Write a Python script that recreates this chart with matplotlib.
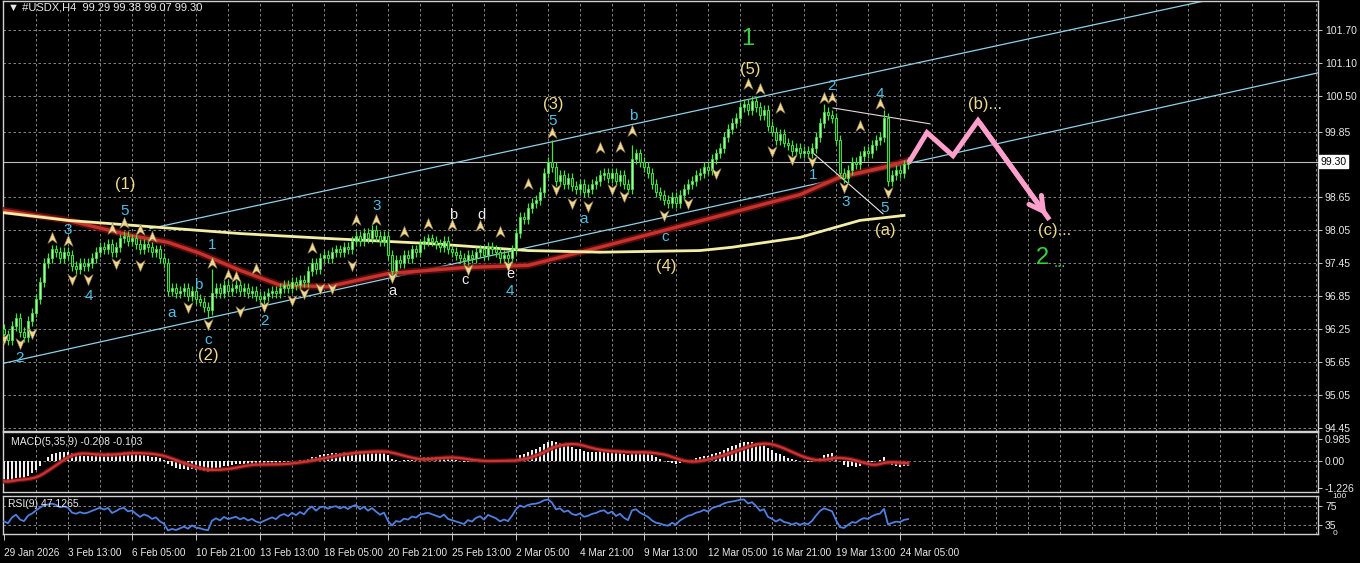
import numpy as np
import pandas as pd
import matplotlib
matplotlib.use("Agg")
import matplotlib.pyplot as plt
from matplotlib.path import Path

# ---- data -------------------------------------------------------------
closes = [
    96.15, 96.05, 96.30, 96.45, 96.20, 96.10, 96.40, 96.55, 96.80, 97.10, 97.45,
    97.55, 97.70, 97.65, 97.55, 97.65, 97.60, 97.40, 97.35, 97.45, 97.40, 97.45,
    97.55, 97.65, 97.75, 97.70, 97.80, 97.65, 97.75, 97.90, 97.95, 97.85, 97.90, 97.80,
    97.70, 97.80, 97.75, 97.65, 97.70, 97.55, 97.45,
    96.95, 97.00, 96.90, 96.95, 97.00, 96.85, 96.95, 96.80, 96.75, 96.65, 96.60,
    96.90, 97.00, 96.90, 97.05, 96.95, 97.00, 97.05, 96.95, 97.00, 96.90, 96.95, 96.85,
    96.80, 96.85, 96.90, 96.95, 96.90, 97.00, 97.05, 97.00, 97.10, 97.05, 97.15, 97.10,
    97.30, 97.45, 97.35, 97.55, 97.60, 97.55, 97.65, 97.70, 97.65, 97.75, 97.70,
    97.85, 97.95, 97.85, 98.00, 97.90, 98.05, 97.95, 97.85, 97.95,
    97.60, 97.30, 97.50, 97.45, 97.60, 97.55, 97.70, 97.65, 97.80, 97.85, 97.90, 97.85,
    97.80, 97.75, 97.85, 97.70, 97.65, 97.60, 97.55, 97.50, 97.60, 97.55, 97.65, 97.70,
    97.60, 97.75, 97.70, 97.65, 97.55, 97.60, 97.55, 97.70,
    98.00, 98.30, 98.25, 98.45, 98.55, 98.60, 98.75, 99.10, 99.30, 99.20,
    98.95, 99.05, 98.90, 99.00, 98.85, 98.80, 98.90, 98.75, 98.80, 98.90,
    98.95, 99.05, 99.10, 99.00, 99.10, 98.95, 99.05, 98.90, 98.80, 99.35,
    99.45, 99.30, 99.20, 99.10, 98.90, 98.75, 98.70, 98.60, 98.55, 98.65,
    98.55, 98.70, 98.80, 98.90, 98.95, 99.05, 99.10, 99.20, 99.15, 99.35,
    99.45, 99.55, 99.75, 99.90, 100.00, 100.10, 100.30, 100.35, 100.25, 100.40,
    100.30, 100.15, 100.25, 99.95, 99.85, 99.70, 99.80, 99.65, 99.60, 99.50,
    99.55, 99.45, 99.50, 99.45, 99.55, 99.75, 100.00, 100.20, 100.15, 100.10,
    99.70, 99.10, 99.00, 99.15, 99.30, 99.25, 99.40, 99.50, 99.45, 99.60,
    99.70, 99.75, 100.10, 98.95, 99.05, 99.15, 99.10, 99.25, 99.30,
]
first_open = 96.25
wick = 0.09
extra_highs = {52: 97.35, 137: 99.70, 157: 99.60, 187: 100.50, 205: 100.35, 220: 100.25}
extra_lows = {51: 96.45, 97: 97.25, 221: 98.85}

# moving averages (bar index, price)
red_ma_x = [0, 16, 32, 41, 49, 59, 69, 81, 96, 115, 131, 149, 174, 199, 209, 220, 226]
red_ma_y = [98.41, 98.23, 97.95, 97.83, 97.63, 97.32, 97.05, 97.02, 97.26, 97.37, 97.41,
            97.74, 98.22, 98.70, 99.02, 99.20, 99.32]
yel_ma_x = [0, 16, 59, 81, 106, 131, 149, 174, 182, 199, 214, 225]
yel_ma_y = [98.37, 98.23, 97.99, 97.90, 97.81, 97.68, 97.65, 97.68, 97.74, 97.92, 98.23, 98.32]

# trend lines (bar index, price)
lower_chan = ([-1, 328.5], [95.61, 100.92])
upper_chan = ([36.5, 300], [98.08, 102.23])
white_line1 = ([207.25, 231.5], [100.28, 99.99])
white_line2 = ([202.25, 219.75], [99.46, 98.35])
pink_x = [226.5, 230.75, 237.25, 243.5]
pink_y = [99.32, 99.83, 99.41, 100.05]
pink_tip = (261, 98.28)

frac_up = [(12, 97.90), (16, 97.86), (27, 98.08), (30, 98.19), (34, 98.05), (37, 97.92),
           (52, 97.45), (56, 97.23), (58, 97.19), (63, 97.34), (77, 97.72), (88, 98.23),
           (93, 98.23), (100, 98.01), (106, 98.17), (112, 98.14), (119, 98.12), (124, 98.01),
           (131, 98.90), (137, 99.83), (149, 99.55), (154, 99.57), (157, 99.86), (186, 100.72),
           (189, 100.63), (194, 100.28), (205, 100.46), (207, 100.46), (214, 99.95), (219, 100.35)]
frac_dn = [(0, 96.08), (4, 95.99), (7, 96.17), (17, 97.17), (21, 97.17), (28, 97.45),
           (34, 97.41), (46, 96.65), (51, 96.35), (59, 96.57), (65, 96.66), (72, 96.77),
           (75, 96.90), (79, 96.99), (82, 96.99), (87, 97.41), (97, 97.19), (116, 97.35),
           (126, 97.41), (138, 98.81), (142, 98.54), (146, 98.50), (152, 98.81), (155, 98.68),
           (165, 98.32), (171, 98.54), (178, 99.10), (192, 99.50), (197, 99.35), (202, 99.32),
           (210, 98.83), (221, 98.74)]

# wave labels: (text, bar, price, kind)
wave_labels = [
    ("1", 186, 101.54, "big"), ("(5)", 186.5, 100.99, "deg"),
    ("(1)", 30.25, 98.88, "deg"), ("5", 30.25, 98.41, "cy"), ("3", 16, 98.06, "cy"),
    ("4", 21.25, 96.85, "cy"), ("2", 4, 95.72, "cy"), ("1", 52, 97.79, "cy"),
    ("a", 42, 96.54, "cy"), ("b", 48.5, 97.06, "cy"), ("c", 51, 96.05, "cy"),
    ("(2)", 51, 95.77, "deg"), ("2", 65.25, 96.39, "cy"), ("3", 93.25, 98.50, "cy"),
    ("a", 97, 96.95, "wh"), ("b", 112.25, 98.32, "wh"), ("c", 115.25, 97.14, "wh"),
    ("d", 119.5, 98.32, "wh"), ("e", 126.5, 97.25, "wh"), ("4", 126.5, 96.94, "cy"),
    ("(3)", 137.25, 100.35, "deg"), ("5", 137.25, 100.05, "cy"), ("a", 145, 98.26, "cy"),
    ("b", 157.25, 100.14, "cy"), ("c", 165.25, 97.92, "cy"), ("(4)", 165.5, 97.39, "deg"),
    ("2", 207, 100.68, "cy"), ("1", 202.25, 99.06, "cy"), ("3", 210.5, 98.57, "cy"),
    ("4", 219, 100.54, "cy"), ("5", 220.25, 98.46, "cy"), ("(a)", 220.25, 98.05, "deg"),
]

price_ticks = [101.70, 101.10, 100.50, 99.85, 98.65, 98.05, 97.45, 96.85, 96.25, 95.65, 95.05, 94.45]
last_price = 99.30
date_labels = ['29 Jan 2026', '3 Feb 13:00', '6 Feb 05:00', '10 Feb 21:00', '13 Feb 13:00',
               '18 Feb 05:00', '20 Feb 21:00', '25 Feb 13:00', '2 Mar 05:00', '4 Mar 21:00',
               '9 Mar 13:00', '12 Mar 05:00', '16 Mar 21:00', '19 Mar 13:00', '24 Mar 05:00']
header = "\u25bc #USDX,H4  99.29 99.38 99.07 99.30"

macd_fast, macd_slow, macd_sig = 5, 35, 9
macd_seed = (96.40, 97.30)
rsi_period = 9
rsi_seed = (0.06, 0.07)
rsi_levels = [75, 35]

# ---- derived --------------------------------------------------------
c = np.array(closes)
n = len(c)
idx = np.arange(n)
o = np.concatenate([[first_open], c[:-1]])
h = np.maximum(o, c) + wick
l = np.minimum(o, c) - wick
for k, v in extra_highs.items():
    h[k] = max(h[k], v)
for k, v in extra_lows.items():
    l[k] = min(l[k], v)


def ema(values, period, seed):
    a = 2.0 / (period + 1)
    out = []
    prev = seed
    for v in values:
        prev = prev + a * (v - prev)
        out.append(prev)
    return np.array(out)


macd = ema(c, macd_fast, macd_seed[0]) - ema(c, macd_slow, macd_seed[1])
signal = pd.Series(macd).rolling(macd_sig, min_periods=1).mean().values

diff = np.diff(np.concatenate([[first_open], c]))
ag, al = rsi_seed
rsi = []
for d in diff:
    ag = (ag * (rsi_period - 1) + max(d, 0)) / rsi_period
    al = (al * (rsi_period - 1) + max(-d, 0)) / rsi_period
    rsi.append(100 - 100 / (1 + ag / al))
rsi = np.array(rsi)

# MT4 style arrow markers (notched arrowheads)
up_arrow = Path([(0, 1), (0.75, -0.8), (0, -0.25), (-0.75, -0.8), (0, 1)],
                [Path.MOVETO, Path.LINETO, Path.LINETO, Path.LINETO, Path.CLOSEPOLY])
dn_arrow = Path([(0, -1), (0.75, 0.8), (0, 0.25), (-0.75, 0.8), (0, -1)],
                [Path.MOVETO, Path.LINETO, Path.LINETO, Path.LINETO, Path.CLOSEPOLY])

# ---- figure ---------------------------------------------------------
W, H = 1360, 563
fig = plt.figure(figsize=(W / 100, H / 100), dpi=100, facecolor='black')
plt.rcParams['font.family'] = ['Liberation Sans', 'DejaVu Sans']

L, R = 3 / W, 1318 / W
ax = fig.add_axes([L, 1 - 431 / H, R - L, 431 / H - 1 / H])
axm = fig.add_axes([L, 1 - 492 / H, R - L, 60 / H])
axr = fig.add_axes([L, 1 - 534 / H, R - L, 38 / H])

xlim = (-0.25, 328.5)
grid_col = '#9a9a9a'
txt_col = '#e8e8e8'
for a in (ax, axm, axr):
    a.set_facecolor('black')
    a.set_xlim(*xlim)
    for s in a.spines.values():
        s.set_color('#d0d0d0')
        s.set_linewidth(1.0)
    a.yaxis.tick_right()
    a.tick_params(axis='y', colors=txt_col, labelsize=7.5, length=3, pad=2, width=0.6)
    a.tick_params(axis='x', length=0)
    a.set_xticks([])
    for gx in range(8, 329, 8):
        a.axvline(gx, color=grid_col, lw=0.6, ls=(0, (3, 3)), zorder=0)

# main price panel
ax.set_ylim(94.39, 102.23)
ax.set_yticks(price_ticks)
ax.set_yticklabels([f"{p:.2f}" for p in price_ticks])
for p in price_ticks:
    ax.axhline(p, color=grid_col, lw=0.6, ls=(0, (3, 3)), zorder=0)
ax.axhline(last_price, color='#bdbdbd', lw=0.8, zorder=1)
ax.text(1.002, last_price, f"{last_price:.2f}", transform=ax.get_yaxis_transform(),
        va='center', ha='left', fontsize=7.5, color='black',
        bbox=dict(boxstyle='square,pad=0.15', fc='white', ec='white'))

ax.plot(*lower_chan, color='#8fd0e6', lw=0.9, zorder=2)
ax.plot(*upper_chan, color='#8fd0e6', lw=0.9, zorder=2)
ax.plot(red_ma_x, red_ma_y, color='#6b1010', lw=5, alpha=0.8, zorder=3)
ax.plot(red_ma_x, red_ma_y, color='#c8322c', lw=2.4, zorder=3)
ax.plot(yel_ma_x, yel_ma_y, color='#f3eea6', lw=2.0, zorder=3)
ax.plot(*white_line1, color='#e6d6dc', lw=0.8, zorder=3)
ax.plot(*white_line2, color='#e6e6e6', lw=0.8, zorder=3)

# candles
cand = '#44e044'
ax.vlines(idx, l, h, color=cand, lw=0.9, zorder=4)
up = c >= o
body = np.maximum(np.abs(c - o), 0.015)
ax.bar(idx[up], body[up], bottom=np.minimum(o, c)[up], width=0.7,
       color='#a8f5a8', edgecolor=cand, lw=0.6, zorder=5)
ax.bar(idx[~up], body[~up], bottom=np.minimum(o, c)[~up], width=0.7,
       color='#0d3a0d', edgecolor=cand, lw=0.7, zorder=5)

# fractal arrows
fu = np.array(frac_up)
fd = np.array(frac_dn)
ax.scatter(fu[:, 0], fu[:, 1], marker=up_arrow, s=80, color='#efd896',
           edgecolor='#8a7440', lw=0.4, zorder=6)
ax.scatter(fd[:, 0], fd[:, 1], marker=dn_arrow, s=80, color='#efd896',
           edgecolor='#8a7440', lw=0.4, zorder=6)

# projection
ax.plot(pink_x + [pink_tip[0]], pink_y + [pink_tip[1]], color='#ff9fcc', lw=3.6,
        solid_joinstyle='miter', zorder=7)
ax.annotate('', xy=pink_tip, xytext=(pink_x[-1], pink_y[-1]),
            arrowprops=dict(arrowstyle='->,head_length=1.0,head_width=0.55',
                            color='#ff9fcc', lw=3.6), zorder=7)

styles = {
    'big': dict(color='#3ccf3c', fontsize=17),
    'deg': dict(color='#efd98c', fontsize=12),
    'cy': dict(color='#4fc0e4', fontsize=11),
    'wh': dict(color='#ececec', fontsize=10.5),
}
for t, x, y, k in wave_labels:
    ax.text(x, y, t, ha='center', va='center', zorder=8, **styles[k])
ax.text(241, 100.34, "(b)...", ha='left', va='center', color='#efd98c', fontsize=12, zorder=8)
ax.text(258.5, 98.05, "(c)...", ha='left', va='center', color='#efd98c', fontsize=12, zorder=8)
ax.text(258, 97.54, "2", ha='left', va='center', color='#3ccf3c', fontsize=17, zorder=8)
ax.text(262.5, 97.45, "...", ha='left', va='center', color='#3ccf3c', fontsize=11, zorder=8)
fig.text(8 / W, 1 - 8 / H, header, color=txt_col, fontsize=8, va='center', ha='left')

# MACD panel
axm.set_ylim(-1.4, 1.3)
axm.set_yticks([0.985, 0.0, -1.226])
axm.set_yticklabels(['0.985', '0.00', '-1.226'])
axm.axhline(0, color=grid_col, lw=0.6, ls=(0, (3, 3)), zorder=0)
axm.bar(idx, macd, width=0.3, color='#f0f0f0', zorder=2)
axm.plot(idx, signal, color='#7a1515', lw=3.4, alpha=0.8, zorder=3)
axm.plot(idx, signal, color='#cc3333', lw=1.6, zorder=3)
axm.text(0.006, 0.84, f"MACD({macd_fast},{macd_slow},{macd_sig}) {macd[-1]:.3f} {signal[-1]:.3f}",
         transform=axm.transAxes, color=txt_col, fontsize=7.5, va='center')

# RSI panel
axr.set_ylim(15, 97)
axr.set_yticks(rsi_levels)
axr.set_yticklabels([str(v) for v in rsi_levels])
for lv in rsi_levels:
    axr.axhline(lv, color=grid_col, lw=0.6, ls=(0, (3, 3)), zorder=0)
axr.text(1.011, 1.0, '100', transform=axr.transAxes, color=txt_col, fontsize=6, va='center')
axr.text(1.011, 0.02, '0', transform=axr.transAxes, color=txt_col, fontsize=6, va='center')
axr.plot(idx, rsi, color='#4f7fe0', lw=1.3, zorder=3)
axr.text(0.004, 0.8, f"RSI({rsi_period}) {rsi[-1]:.4f}", transform=axr.transAxes,
         color=txt_col, fontsize=7.5, va='center')

# date axis
ticks = list(range(0, 16 * len(date_labels), 16))
axr.set_xticks(ticks)
axr.set_xticklabels(date_labels, ha='left')
axr.tick_params(axis='x', colors=txt_col, labelsize=7.2, length=4, width=0.6, pad=6)
axr.set_xlim(*xlim)

fig.savefig('out.png', dpi=100, facecolor='black')
